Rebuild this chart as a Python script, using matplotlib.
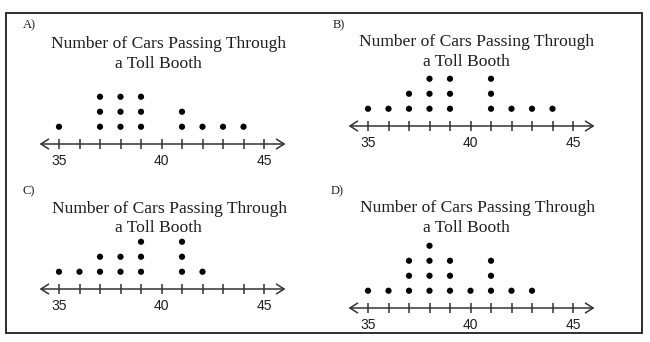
import numpy as np
import matplotlib
matplotlib.use("Agg")
import matplotlib.pyplot as plt
from matplotlib.patches import Rectangle

# number line ticks and labels
ticks = list(range(35, 46))
tick_labels = ["35", "40", "45"]

# dot plot data for each answer choice: value and number of dots stacked on it
a_values = [35, 37, 38, 39, 41, 42, 43, 44]
a_counts = [1, 3, 3, 3, 2, 1, 1, 1]

b_values = [35, 36, 37, 38, 39, 41, 42, 43, 44]
b_counts = [1, 1, 2, 3, 3, 3, 1, 1, 1]

c_values = [35, 36, 37, 38, 39, 41, 42]
c_counts = [1, 1, 2, 2, 3, 3, 1]

d_values = [35, 36, 37, 38, 39, 40, 41, 42, 43]
d_counts = [1, 1, 3, 4, 3, 1, 3, 1, 1]

W, H = 650, 342
fig = plt.figure(figsize=(W / 100, H / 100), dpi=100)
fig.patch.set_facecolor("white")

ink = "#1e1e1e"
line_col = "#333333"

# outer frame around all four choices
frame = Rectangle((6 / W, 1 - 333 / H), 636 / W, 320 / H, transform=fig.transFigure,
                  fill=False, edgecolor=ink, linewidth=1.3)
fig.patches.append(frame)

unit_px = 20.5   # pixels per car on the x axis
step_px = 15     # pixels between stacked dots
x_lo, x_hi = 33.5, 46.5
y_lo, y_hi = -1.6, 4.8


def panel(letter, values, counts, x35_px, axis_px, title_cx, sub_cx, letter_px, title_y, sub_y):
    left = x35_px - (35 - x_lo) * unit_px
    width = (x_hi - x_lo) * unit_px
    bottom = axis_px - y_lo * step_px
    height = (y_hi - y_lo) * step_px
    ax = fig.add_axes([left / W, 1 - bottom / H, width / W, height / H])
    ax.set_xlim(x_lo, x_hi)
    ax.set_ylim(y_lo, y_hi)
    ax.axis("off")

    # number line with open arrowheads at both ends
    ax.annotate("", xy=(46.05, 0), xytext=(34.05, 0),
                arrowprops=dict(arrowstyle="<->,head_length=0.55,head_width=0.35",
                                color=line_col, lw=1.1, shrinkA=0, shrinkB=0))
    ax.vlines(ticks, -0.33, 0.33, color=line_col, lw=1.1)
    for lab in tick_labels:
        ax.text(float(lab), -1.12, lab, ha="center", va="center",
                family="Liberation Sans", fontsize=10, color=ink)

    # stacked dots
    xs, ys = [], []
    for v, c in zip(values, counts):
        xs += [v] * c
        ys += list(np.arange(1, c + 1) + 0.15)
    ax.scatter(xs, ys, s=20, color="black", edgecolors="none", zorder=3)

    fig.text(letter_px[0] / W, 1 - letter_px[1] / H, letter + ")", ha="center", va="center",
             family="Liberation Serif", fontsize=9, color=ink)
    fig.text(title_cx / W, 1 - title_y / H, "Number of Cars Passing Through", ha="center",
             va="center", family="Liberation Serif", fontsize=12.6, color=ink)
    fig.text(sub_cx / W, 1 - sub_y / H, "a Toll Booth", ha="center",
             va="center", family="Liberation Serif", fontsize=12.6, color=ink)


panel("A", a_values, a_counts, 59, 144, 169, 158, (29, 25), 44, 64)
panel("B", b_values, b_counts, 368, 126, 477, 466, (339, 25), 42, 62)
panel("C", c_values, c_counts, 59, 289, 170, 158, (29, 191), 209, 228)
panel("D", d_values, d_counts, 368, 308, 478, 466, (337, 191), 208, 228)

fig.savefig("out.png", dpi=100, facecolor="white")
